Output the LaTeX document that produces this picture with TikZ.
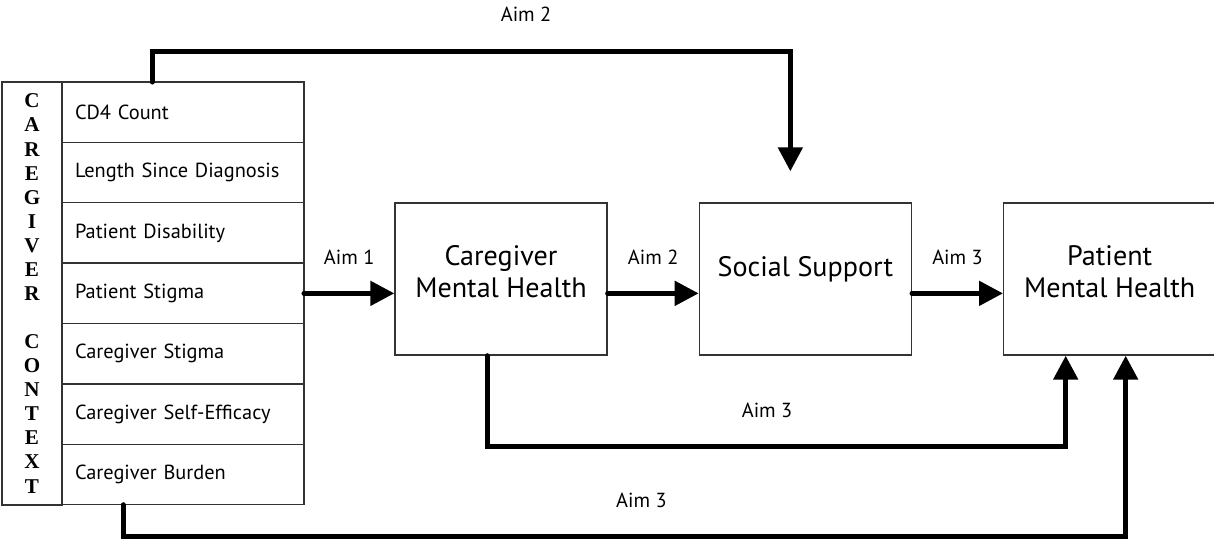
\documentclass[tikz,border=0pt]{standalone}
\usepackage{fontspec}
\setmainfont{PT Sans}
\newfontfamily\ctxfont{Liberation Serif}
\usepackage{tikz}
\usetikzlibrary{arrows.meta}
\usetikzlibrary{positioning}

\tikzset{
  factor/.style={draw=black!80,line width=0.8pt,outer sep=0pt,minimum height=1.208cm,text width=4.32cm,
    inner xsep=0.26cm,align=left,font=\fontsize{11.6}{13}\selectfont},
  mainbox/.style={draw=black!80,line width=0.8pt,minimum width=4.24cm,minimum height=3.04cm,
    text depth=0.3cm,align=center,font=\fontsize{16}{18}\selectfont},
  aim/.style={line width=0.1cm,-{Triangle[length=0.48cm,width=0.48cm]}},
  aimlabel/.style={font=\fontsize{11.6}{13}\selectfont}
}

\begin{document}
\begin{tikzpicture}[line cap=round,line join=miter,x=0.02cm,y=-0.02cm]
\useasboundingbox (0,0) rectangle (1214,544);
\node[draw=black!80,line width=0.8pt,minimum width=1.2cm,minimum height=8.46cm,align=center,
  font=\ctxfont\bfseries\fontsize{12}{13.7}\selectfont] (ctx) at (32,293.5)
  {C\\A\\R\\E\\G\\I\\V\\E\\R\\[13.7pt]C\\O\\N\\T\\E\\X\\T};
\node[factor] (cd4) at (183,112.2) {CD4 Count};
\node[factor,below=0pt of cd4] (length) {Length Since Diagnosis};
\node[factor,below=0pt of length] (disab) {Patient Disability};
\node[factor,below=0pt of disab] (pstigma) {Patient Stigma};
\node[factor,below=0pt of pstigma] (cstigma) {Caregiver Stigma};
\node[factor,below=0pt of cstigma] (efficacy) {Caregiver Self-Efficacy};
\node[factor,below=0pt of efficacy] (burden) {Caregiver Burden};

\node[mainbox] (cmh) at (501,279) {Caregiver\\Mental Health};
\node[mainbox,text depth=0.5cm,right=1.82cm of cmh] (ss) {Social Support};
\node[mainbox,right=1.82cm of ss] (pmh) {Patient\\Mental Health};

\draw[aim] (pstigma.east) -- (pstigma.east -| cmh.west) node[aimlabel,midway,yshift=0.72cm] {Aim 1};
\draw[aim] (cmh.east |- pstigma.east) -- (ss.west |- pstigma.east) node[aimlabel,midway,yshift=0.72cm] {Aim 2};
\draw[aim] (ss.east |- pstigma.east) -- (pmh.west |- pstigma.east) node[aimlabel,midway,yshift=0.72cm] {Aim 3};

\draw[aim] ([xshift=-0.62cm]cd4.north) -- ++(0,0.62cm) -| ([xshift=-0.3cm,yshift=0.62cm]ss.north)
  node[aimlabel,pos=0.293,yshift=0.74cm] {Aim 2};
\draw[aim] ([xshift=-0.28cm]cmh.south) -- ++(0,-1.82cm) -| ([xshift=-0.88cm]pmh.south)
  node[aimlabel,pos=0.242,yshift=0.72cm] {Aim 3};
\draw[aim] ([xshift=-1.2cm]burden.south) -- ++(0,-0.64cm) -| ([xshift=0.32cm]pmh.south)
  node[aimlabel,pos=0.2585,yshift=0.72cm] {Aim 3};
\end{tikzpicture}
\end{document}
